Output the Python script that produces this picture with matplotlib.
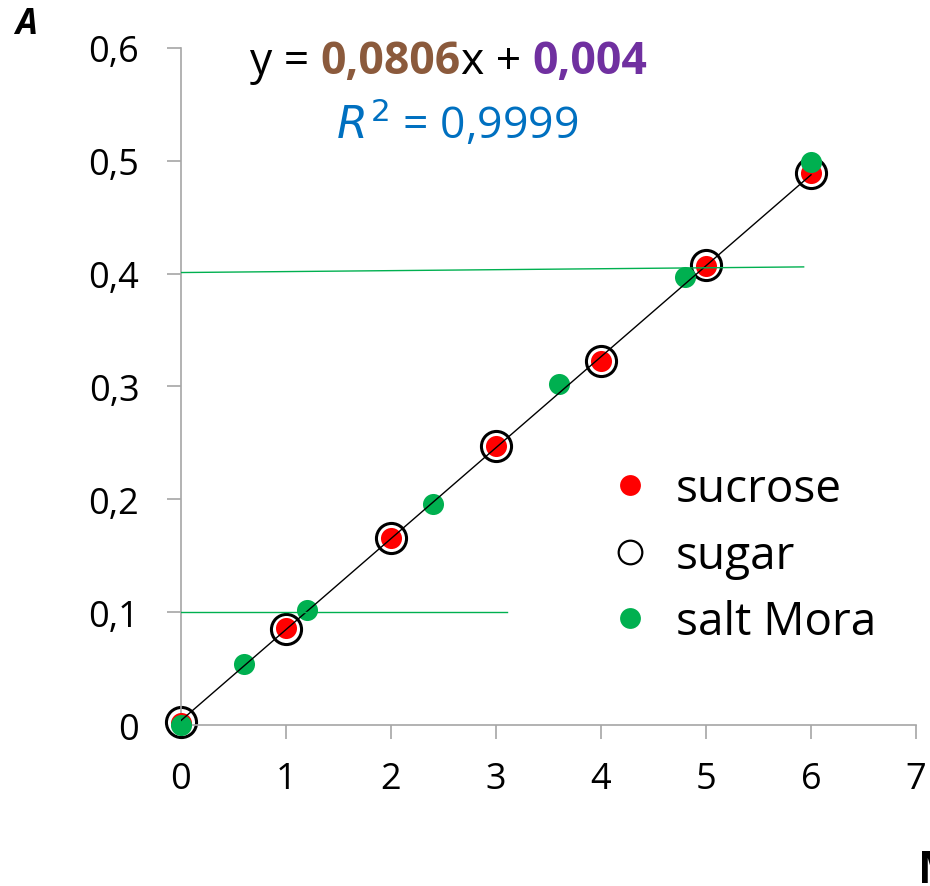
import numpy as np
import matplotlib.pyplot as plt
from matplotlib.lines import Line2D

plt.rcParams['font.family'] = ['Open Sans', 'DejaVu Sans']

# calibration points
x_sucrose = [0, 1, 2, 3, 4, 5, 6]
y_sucrose = [0.002, 0.086, 0.166, 0.247, 0.323, 0.407, 0.489]
x_sugar = [0, 1, 2, 3, 4, 5, 6]
y_sugar = [0.003, 0.085, 0.166, 0.247, 0.323, 0.408, 0.489]
x_salt = [0, 0.6, 1.2, 2.4, 3.6, 4.8, 6.0]
y_salt = [0.0, 0.054, 0.102, 0.196, 0.302, 0.397, 0.499]

slope = 0.0806
intercept = 0.004
r2 = "0,9999"

# guide lines
guide_low_x = [0, 3.1]
guide_low_y = [0.1, 0.1]
guide_high_x = [0, 5.93]
guide_high_y = [0.401, 0.406]

xticks = [0, 1, 2, 3, 4, 5, 6, 7]
yticks = [0, 0.1, 0.2, 0.3, 0.4, 0.5, 0.6]
ytick_labels = ["0", "0,1", "0,2", "0,3", "0,4", "0,5", "0,6"]

W, H = 930, 887
fig = plt.figure(figsize=(W / 100, H / 100), dpi=100)
ax = fig.add_axes([181 / W, 1 - 726 / H, 735 / W, 677 / H])

ax.scatter(x_sugar, y_sugar, s=470, facecolor="white", edgecolor="black", linewidth=2.2, zorder=2)
ax.scatter(x_sucrose, y_sucrose, s=230, color="#ff0000", linewidth=0, zorder=3)
ax.scatter(x_salt, y_salt, s=230, color="#00b050", linewidth=0, zorder=4)

fx = np.array([0, 6])
ax.plot(fx, slope * fx + intercept, color="black", lw=1, zorder=5)
ax.plot(guide_low_x, guide_low_y, color="#00b050", lw=1, zorder=5)
ax.plot(guide_high_x, guide_high_y, color="#00b050", lw=1, zorder=5)

ax.set_xlim(0, 7)
ax.set_ylim(0, 0.6)
ax.set_xticks(xticks)
ax.set_xticklabels([str(v) for v in xticks])
ax.set_yticks(yticks)
ax.set_yticklabels(ytick_labels)
for s in ["top", "right"]:
    ax.spines[s].set_visible(False)
for s in ["left", "bottom"]:
    ax.spines[s].set_color("#a6a6a6")
    ax.spines[s].set_linewidth(1.2)
ax.tick_params(direction="out", length=10, width=1.2, color="#a6a6a6",
               labelsize=26)
ax.tick_params(axis="y", pad=20)
ax.tick_params(axis="x", pad=16)
for c in ax.collections:
    c.set_clip_on(False)

# fit equation
eq_y = 1 - 63 / H
eq_size = 32
t = fig.text(250 / W, eq_y, "y = ", fontsize=eq_size, color="black", ha="left", va="center")
fig.canvas.draw()
r = fig.canvas.get_renderer()
def after(prev, s, **kw):
    bb = prev.get_window_extent(renderer=r)
    return fig.text(bb.x1 / W, eq_y, s, fontsize=eq_size, ha="left", va="center", **kw)
t = after(t, "0,0806", color="#8b5a3c", fontweight="bold")
t = after(t, "x + ", color="black")
t = after(t, "0,004", color="#7030a0", fontweight="bold")
fig.text(457 / W, 1 - 125 / H, r"$\mathit{R}^{2}$ = " + r2, fontsize=32, color="#0070c0",
         ha="center", va="center")

fig.text(26 / W, 1 - 25 / H, "A", fontsize=25, fontweight="bold", fontstyle="italic",
         ha="center", va="center")
fig.text(918 / W, 1 - 872 / H, "M", fontsize=32, fontweight="bold", ha="left", va="center")

handles = [
    Line2D([], [], ls="none", marker="o", ms=15, color="#ff0000", mec="none"),
    Line2D([], [], ls="none", marker="o", ms=17, mfc="white", mec="black", mew=1.6),
    Line2D([], [], ls="none", marker="o", ms=15, color="#00b050", mec="none"),
]
ax.legend(handles, ["sucrose", "sugar", "salt Mora"], loc="center left",
          bbox_to_anchor=(0.58, 0.25), frameon=False, fontsize=33,
          handletextpad=0.5, labelspacing=0.45, handlelength=1.0,
          borderaxespad=0, borderpad=0)

fig.savefig("out.png", dpi=100)
